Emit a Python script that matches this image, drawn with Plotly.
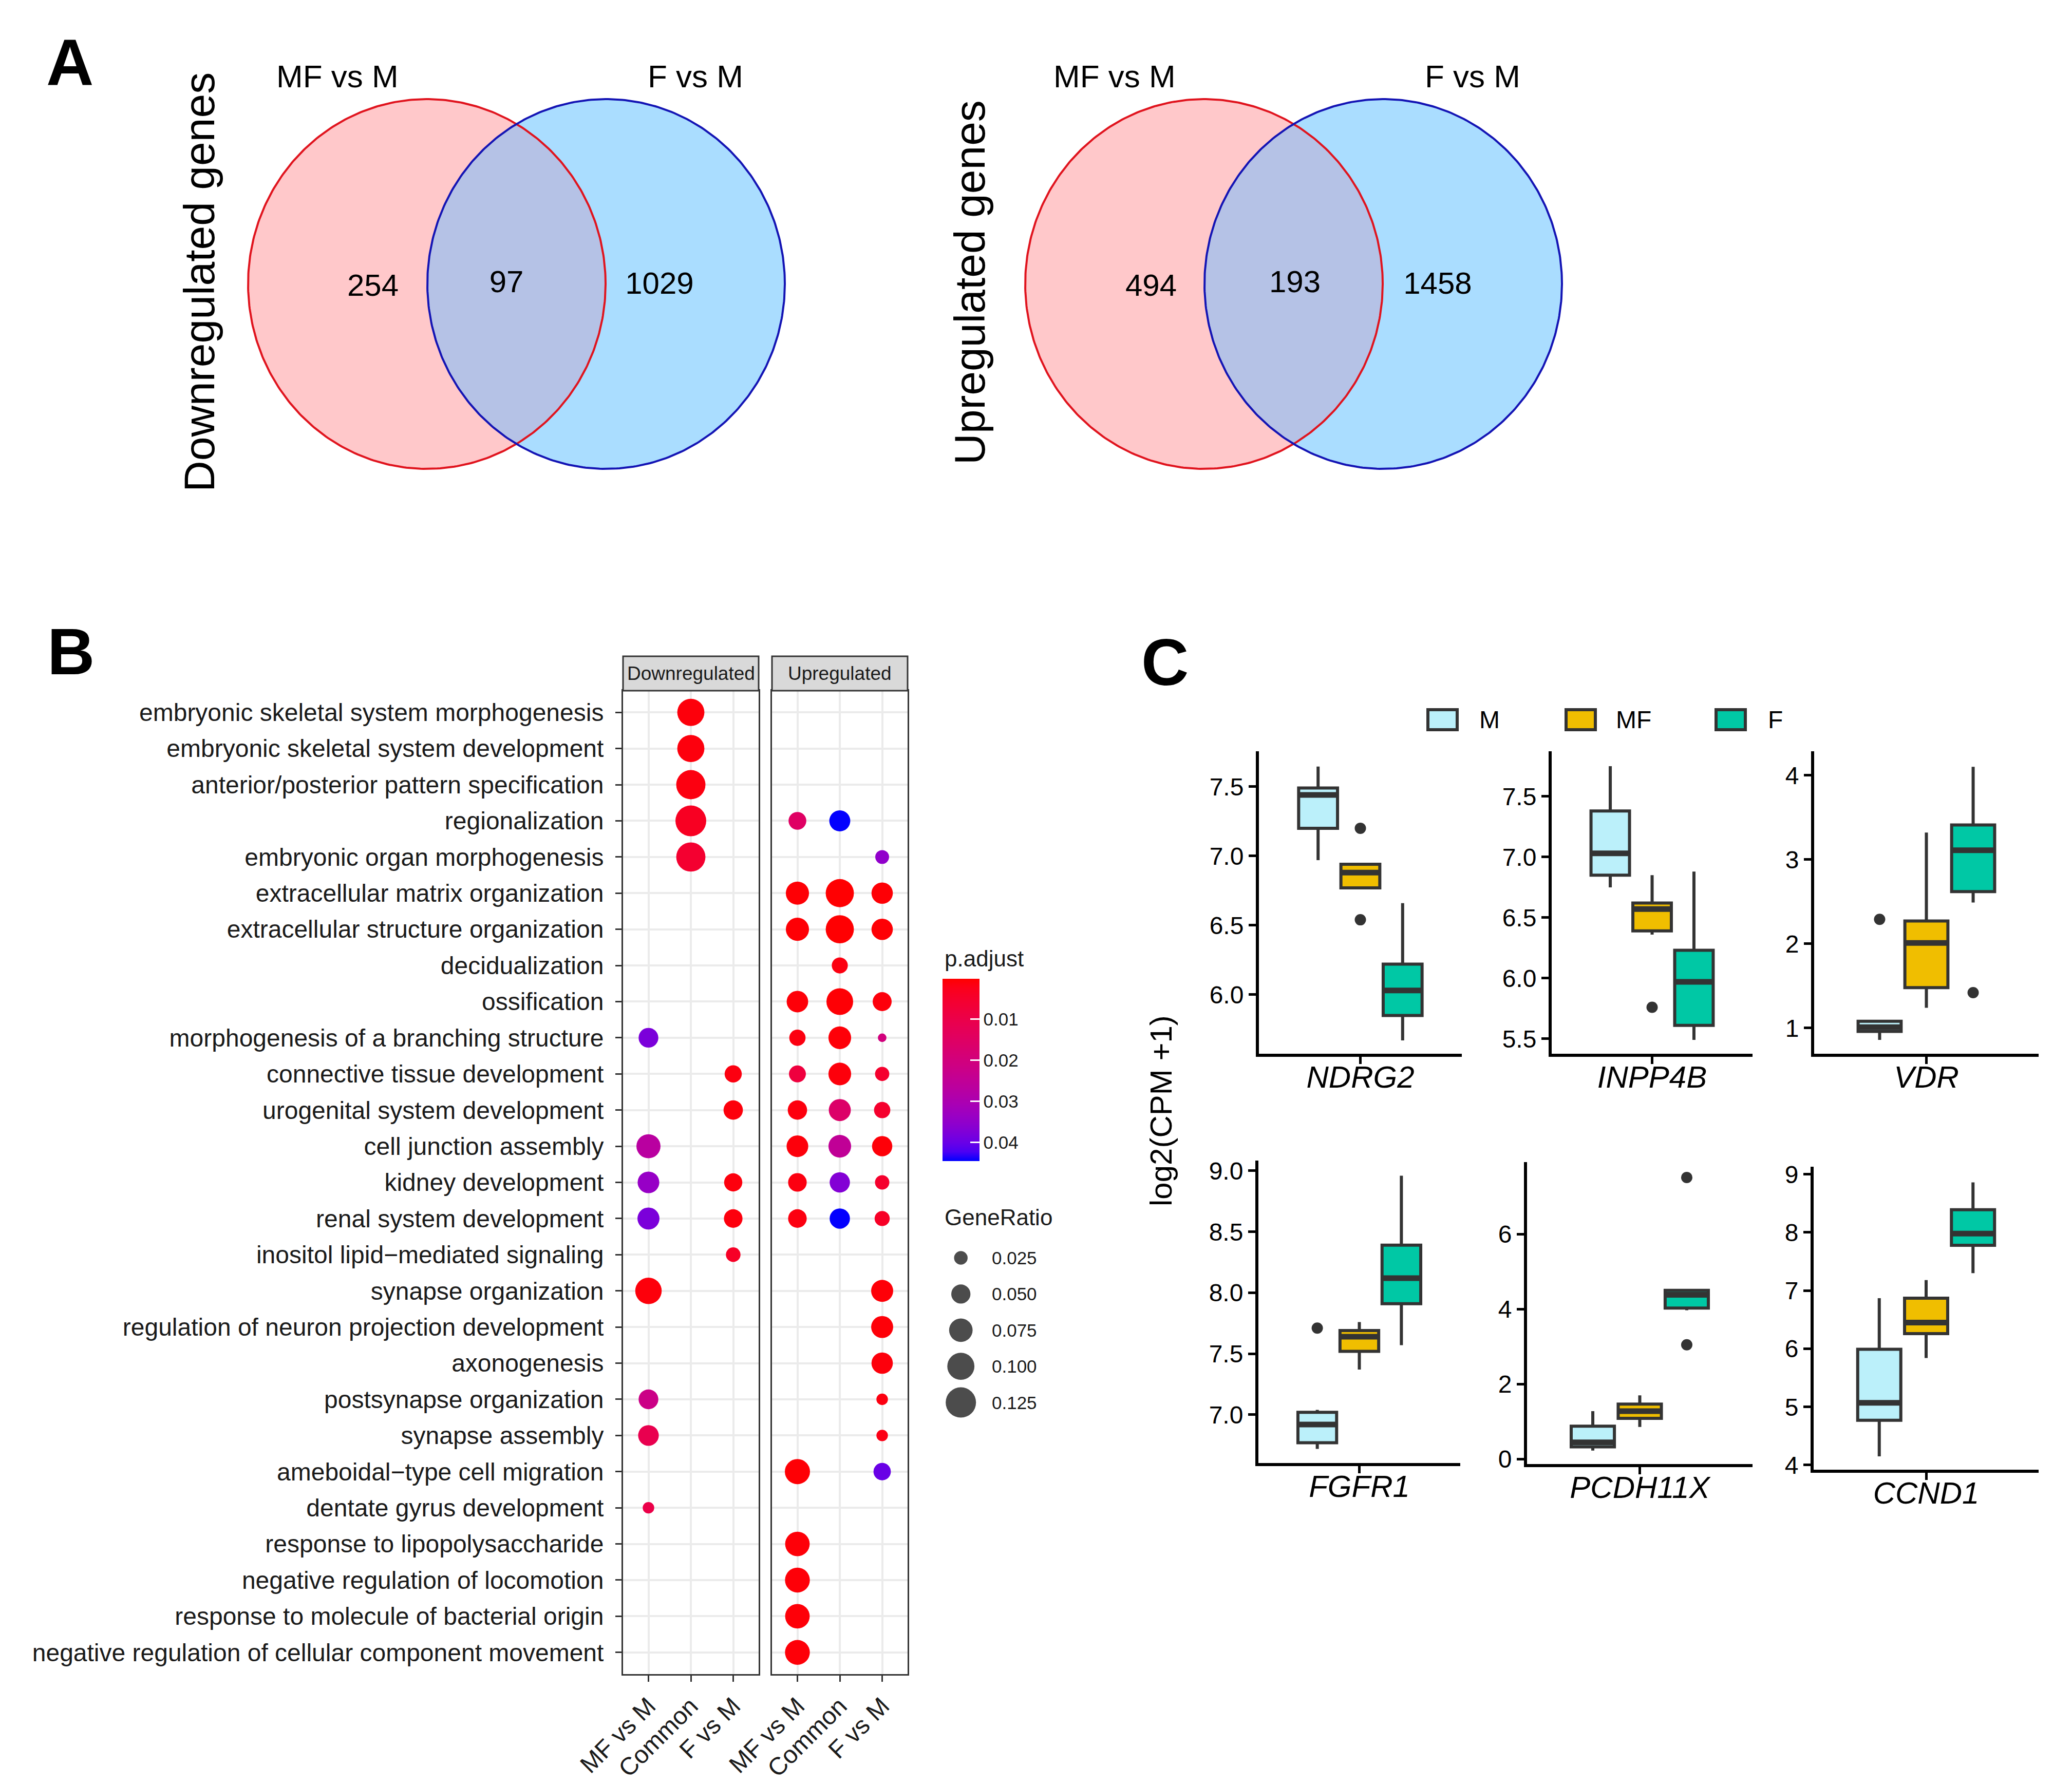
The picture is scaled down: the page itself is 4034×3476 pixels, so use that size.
import numpy as np
import plotly.graph_objects as go

W, H = 4034, 3476
FONT = "Liberation Sans, Arial, Helvetica, sans-serif"

# ---------------- Panel A data ----------------
venn_set_names = ["MF vs M", "F vs M"]
venn_panel_titles = ["Downregulated genes", "Upregulated genes"]
down_counts = [254, 97, 1029]   # MF only, both, F only
up_counts = [494, 193, 1458]

# ---------------- Panel B data ----------------
go_terms = [
    "embryonic skeletal system morphogenesis",
    "embryonic skeletal system development",
    "anterior/posterior pattern specification",
    "regionalization",
    "embryonic organ morphogenesis",
    "extracellular matrix organization",
    "extracellular structure organization",
    "decidualization",
    "ossification",
    "morphogenesis of a branching structure",
    "connective tissue development",
    "urogenital system development",
    "cell junction assembly",
    "kidney development",
    "renal system development",
    "inositol lipid\u2212mediated signaling",
    "synapse organization",
    "regulation of neuron projection development",
    "axonogenesis",
    "postsynapse organization",
    "synapse assembly",
    "ameboidal\u2212type cell migration",
    "dentate gyrus development",
    "response to lipopolysaccharide",
    "negative regulation of locomotion",
    "response to molecule of bacterial origin",
    "negative regulation of cellular component movement",
]
comparisons = ["MF vs M", "Common", "F vs M"]
facets = ["Downregulated", "Upregulated"]

down_term = [0, 1, 2, 3, 4, 9, 10, 11, 12, 13, 13, 14, 14, 15, 16, 19, 20, 22]
down_comp = ["Common", "Common", "Common", "Common", "Common", "MF vs M", "F vs M", "F vs M",
             "MF vs M", "MF vs M", "F vs M", "MF vs M", "F vs M", "F vs M", "MF vs M",
             "MF vs M", "MF vs M", "MF vs M"]
down_ratio = [0.100, 0.100, 0.116, 0.129, 0.116, 0.053, 0.040, 0.051, 0.079, 0.064, 0.045,
              0.066, 0.047, 0.029, 0.095, 0.053, 0.058, 0.018]
down_padj = [0.0010, 0.0012, 0.0015, 0.0035, 0.0055, 0.038, 0.0015, 0.0010, 0.027, 0.034,
             0.0012, 0.038, 0.0012, 0.004, 0.0010, 0.022, 0.011, 0.010]

up_term = [3, 3, 4, 5, 5, 5, 6, 6, 6, 7, 8, 8, 8, 9, 9, 9, 10, 10, 10, 11, 11, 11,
           12, 12, 12, 13, 13, 13, 14, 14, 14, 16, 17, 18, 19, 20, 21, 21, 23, 24, 25, 26]
up_comp = ["MF vs M", "Common", "F vs M",
           "MF vs M", "Common", "F vs M",
           "MF vs M", "Common", "F vs M",
           "Common",
           "MF vs M", "Common", "F vs M",
           "MF vs M", "Common", "F vs M",
           "MF vs M", "Common", "F vs M",
           "MF vs M", "Common", "F vs M",
           "MF vs M", "Common", "F vs M",
           "MF vs M", "Common", "F vs M",
           "MF vs M", "Common", "F vs M",
           "F vs M", "F vs M", "F vs M", "F vs M", "F vs M",
           "MF vs M", "F vs M",
           "MF vs M", "MF vs M", "MF vs M", "MF vs M"]
up_ratio = [0.043, 0.060, 0.026,
            0.073, 0.108, 0.062,
            0.073, 0.108, 0.062,
            0.035,
            0.063, 0.097, 0.049,
            0.036, 0.070, 0.010,
            0.039, 0.070, 0.0275,
            0.051, 0.066, 0.036,
            0.064, 0.070, 0.056,
            0.047, 0.056, 0.028,
            0.047, 0.056, 0.031,
            0.066, 0.066, 0.062, 0.018, 0.018,
            0.086, 0.041,
            0.082, 0.084, 0.082, 0.084]
up_padj = [0.015, 0.0445, 0.035,
           0.0005, 0.0003, 0.0005,
           0.0005, 0.0003, 0.0005,
           0.0015,
           0.0008, 0.0005, 0.0010,
           0.0015, 0.0008, 0.020,
           0.008, 0.0010, 0.005,
           0.0012, 0.016, 0.005,
           0.0010, 0.025, 0.0008,
           0.0015, 0.037, 0.005,
           0.0015, 0.0445, 0.004,
           0.0008, 0.0008, 0.0010, 0.0015, 0.0020,
           0.0005, 0.040,
           0.0008, 0.0008, 0.0008, 0.0008]

generatio_breaks = [0.025, 0.050, 0.075, 0.100, 0.125]
padj_breaks = [0.01, 0.02, 0.03, 0.04]
padj_limits = [0.0001, 0.0446]

# ---------------- Panel C data ----------------
genes = ["NDRG2", "INPP4B", "VDR", "FGFR1", "PCDH11X", "CCND1"]
groups = ["M", "MF", "F"]
box_lowerfence = [[6.97, 6.77, 5.67], [6.75, 6.36, 5.49], [0.86, 1.24, 2.49],
                  [6.72, 7.37, 7.57], [0.23, 0.86, 3.97], [4.15, 5.84, 7.30]]
box_q1 = [[7.20, 6.77, 5.85], [6.85, 6.39, 5.61], [0.96, 1.48, 2.62],
          [6.77, 7.52, 7.91], [0.33, 1.09, 4.03], [4.77, 6.26, 7.78]]
box_median = [[7.44, 6.88, 6.03], [7.03, 6.57, 5.97], [1.01, 2.01, 3.11],
              [6.92, 7.64, 8.12], [0.45, 1.28, 4.38], [5.07, 6.45, 7.98]]
box_q3 = [[7.49, 6.94, 6.22], [7.38, 6.62, 6.23], [1.08, 2.27, 3.41],
          [7.02, 7.69, 8.39], [0.88, 1.47, 4.50], [5.99, 6.87, 8.39]]
box_upperfence = [[7.645, 6.94, 6.66], [7.75, 6.85, 6.88], [1.08, 3.32, 4.10],
                  [7.04, 7.76, 8.96], [1.28, 1.70, 4.50], [6.87, 7.18, 8.86]]
outlier_gene = ["NDRG2", "NDRG2", "INPP4B", "VDR", "VDR", "FGFR1", "PCDH11X", "PCDH11X"]
outlier_group = ["MF", "MF", "MF", "M", "F", "M", "F", "F"]
outlier_value = [7.20, 6.54, 5.76, 2.29, 1.42, 7.71, 7.51, 3.05]
gene_yticks = [[6.0, 6.5, 7.0, 7.5], [5.5, 6.0, 6.5, 7.0, 7.5], [1, 2, 3, 4],
               [7.0, 7.5, 8.0, 8.5, 9.0], [0, 2, 4, 6], [4, 5, 6, 7, 8, 9]]
y_title_c = "log2(CPM +1)"

# ---------------- styles / layout geometry ----------------
group_colors = {"M": "#BBF0FA", "MF": "#F0BE00", "F": "#00C8A5"}
box_pos = {"M": 0.75, "MF": 1.0, "F": 1.25}
box_w = 0.23
c_xpx = [(2443, 2838), (3013, 3404), (3524, 3961), (2442, 2835), (2965, 3404), (3523, 3961)]
c_ypx = [(1455, 2044), (1455, 2044), (1455, 2044), (2252, 2841), (2255, 2843), (2264, 2854)]
c_yrange = [(5.574, 7.755), (5.376, 7.873), (0.695, 4.285), (6.604, 9.084), (-0.13, 7.92), (3.92, 9.13)]
c_tickfmt = [".1f", ".1f", "d", ".1f", "d", "d"]

b_xpx = [(1205, 1469), (1495, 1759)]
b_ypx = (1337, 3252)
strip_ypx = (1270, 1337)

SIZEREF = 2.0 / 167.0 ** 2  # diameter = 167*sqrt(GeneRatio) px


def fx(px):
    return px / W


def fy(py):
    return 1 - py / H


# Lab interpolation red -> blue (as ggplot2 gradient)
def srgb_to_lab(rgb):
    def lin(c):
        c = c / 255
        return c / 12.92 if c <= 0.04045 else ((c + 0.055) / 1.055) ** 2.4
    r, g, b = [lin(c) for c in rgb]
    X = 0.4124 * r + 0.3576 * g + 0.1805 * b
    Y = 0.2126 * r + 0.7152 * g + 0.0722 * b
    Z = 0.0193 * r + 0.1192 * g + 0.9505 * b
    d = 6 / 29

    def f(t):
        return t ** (1 / 3) if t > d ** 3 else t / (3 * d * d) + 4 / 29
    fx_, fy_, fz_ = f(X / 0.95047), f(Y), f(Z / 1.08883)
    return (116 * fy_ - 16, 500 * (fx_ - fy_), 200 * (fy_ - fz_))


def lab_to_srgb(lab):
    L, a, b = lab
    fy_ = (L + 16) / 116
    fx_ = fy_ + a / 500
    fz_ = fy_ - b / 200
    d = 6 / 29

    def finv(t):
        return t ** 3 if t > d else 3 * d * d * (t - 4 / 29)
    X, Y, Z = 0.95047 * finv(fx_), finv(fy_), 1.08883 * finv(fz_)
    r = 3.2406 * X - 1.5372 * Y - 0.4986 * Z
    g = -0.9689 * X + 1.8758 * Y + 0.0415 * Z
    bb = 0.0557 * X - 0.2040 * Y + 1.0570 * Z

    def gam(c):
        c = max(0.0, min(1.0, c))
        return 12.92 * c if c <= 0.0031308 else 1.055 * c ** (1 / 2.4) - 0.055
    return tuple(int(round(255 * gam(c))) for c in (r, g, bb))


# colour is mapped on -p.adjust so that the colourbar shows small p (red) at the top,
# as ggplot's reversed colourbar does; colourscale runs blue (large p) -> red (small p)
lab_lo, lab_hi = srgb_to_lab((0, 0, 255)), srgb_to_lab((255, 0, 0))
colorscale = []
for i in range(21):
    t = i / 20
    lab = tuple(lab_lo[k] + (lab_hi[k] - lab_lo[k]) * t for k in range(3))
    r, g, b = lab_to_srgb(lab)
    colorscale.append([t, f"rgb({r},{g},{b})"])

fig = go.Figure()

# ---------------- Panel A: Venn diagrams (pixel overlay axis x9/y9) ----------------
venn_cx = [(823, 1172), (2336, 2685)]
venn_cy = 545
venn_rx, venn_ry = 348, 360
venn_label_x = [(718, 978, 1276), (2233, 2513, 2791)]
venn_label_y = (553, 546, 549)
venn_title_x = [380, 1880]


def ell(cx, cy, a0, a1, n=400):
    ts = np.linspace(a0, a1, n)
    return cx + venn_rx * np.cos(ts), cy + venn_ry * np.sin(ts)


for vi, counts in enumerate([down_counts, up_counts]):
    c1, c2 = venn_cx[vi]
    x, y = ell(c1, venn_cy, 0, 2 * np.pi)
    fig.add_trace(go.Scatter(x=x, y=y, fill="toself", fillcolor="#FFC8CA", mode="none",
                             xaxis="x9", yaxis="y9", hoverinfo="skip"))
    x, y = ell(c2, venn_cy, 0, 2 * np.pi)
    fig.add_trace(go.Scatter(x=x, y=y, fill="toself", fillcolor="#AADDFF", mode="none",
                             xaxis="x9", yaxis="y9", hoverinfo="skip"))
    th = np.arccos((c2 - c1) / 2 / venn_rx)
    xa, ya = ell(c1, venn_cy, -th, th)
    xb, yb = ell(c2, venn_cy, np.pi - th, np.pi + th)
    fig.add_trace(go.Scatter(x=np.concatenate([xa, xb]), y=np.concatenate([ya, yb]),
                             fill="toself", fillcolor="#B5C2E6", mode="none",
                             xaxis="x9", yaxis="y9", hoverinfo="skip"))
    x, y = ell(c1, venn_cy, 0, 2 * np.pi)
    fig.add_trace(go.Scatter(x=x, y=y, mode="lines", line=dict(color="#E0141E", width=4),
                             xaxis="x9", yaxis="y9", hoverinfo="skip"))
    x, y = ell(c2, venn_cy, 0, 2 * np.pi)
    fig.add_trace(go.Scatter(x=x, y=y, mode="lines", line=dict(color="#1414B4", width=4),
                             xaxis="x9", yaxis="y9", hoverinfo="skip"))
    fig.add_trace(go.Scatter(x=list(venn_label_x[vi]), y=list(venn_label_y),
                             text=[str(c) for c in counts], mode="text",
                             textfont=dict(family=FONT, size=60, color="black"),
                             xaxis="x9", yaxis="y9", hoverinfo="skip"))

annotations = []
for vi in range(2):
    c1, c2 = venn_cx[vi]
    annotations.append(dict(x=c1 - 174, y=140, xref="x9", yref="y9", text=venn_set_names[0],
                            showarrow=False, font=dict(family=FONT, size=62, color="black")))
    annotations.append(dict(x=c2 + 174, y=140, xref="x9", yref="y9", text=venn_set_names[1],
                            showarrow=False, font=dict(family=FONT, size=62, color="black")))
    annotations.append(dict(x=venn_title_x[vi], y=542, xref="x9", yref="y9",
                            text=venn_panel_titles[vi], textangle=-90, showarrow=False,
                            font=dict(family=FONT, size=84, color="black")))

# panel letters
for letter, (lx, ly) in zip(["A", "B", "C"], [(128, 113), (130, 1260), (2260, 1281)]):
    annotations.append(dict(x=lx, y=ly, xref="x9", yref="y9", text=f"<b>{letter}</b>",
                            showarrow=False, font=dict(family=FONT, size=128, color="black")))

# ---------------- Panel B: GO dot plot ----------------
for fi, (terms, comps, ratios, padjs) in enumerate([
        (down_term, down_comp, down_ratio, down_padj),
        (up_term, up_comp, up_ratio, up_padj)]):
    xs = [comparisons.index(c) + 1 for c in comps]
    ys = [t + 1 for t in terms]
    ax = "" if fi == 0 else "2"
    fig.add_trace(go.Scatter(
        x=xs, y=ys, mode="markers", xaxis="x" + ax, yaxis="y" + ax,
        marker=dict(size=ratios, sizemode="area", sizeref=SIZEREF, color=[-p for p in padjs],
                    coloraxis="coloraxis", line=dict(width=0), opacity=1),
        hovertext=[f"{go_terms[t]}: p.adjust={p}" for t, p in zip(terms, padjs)],
        hoverinfo="text"))

# size legend (GeneRatio)
leg_y = [2441.5 + i * 70.4 for i in range(len(generatio_breaks))]
fig.add_trace(go.Scatter(x=[1862.7] * len(generatio_breaks), y=leg_y, mode="markers",
                         marker=dict(size=generatio_breaks, sizemode="area", sizeref=SIZEREF,
                                     color="black", line=dict(width=0)),
                         xaxis="x9", yaxis="y9", hoverinfo="skip"))
annotations.append(dict(x=1829, y=2362, xref="x9", yref="y9", text="GeneRatio", xanchor="left",
                        showarrow=False, font=dict(family=FONT, size=44, color="#1a1a1a")))
for v, yy in zip(generatio_breaks, leg_y):
    annotations.append(dict(x=1921, y=yy, xref="x9", yref="y9", text=f"{v:.3f}", xanchor="left",
                            showarrow=False, font=dict(family=FONT, size=35, color="#1a1a1a")))
annotations.append(dict(x=1829, y=1858, xref="x9", yref="y9", text="p.adjust", xanchor="left",
                        showarrow=False, font=dict(family=FONT, size=44, color="#1a1a1a")))

# facet strips
shapes = []
for fi in range(2):
    x0, x1 = b_xpx[fi]
    shapes.append(dict(type="rect", xref="x9", yref="y9", x0=x0, x1=x1, y0=strip_ypx[0],
                       y1=strip_ypx[1], fillcolor="#D9D9D9", line=dict(color="#333333", width=3)))
    annotations.append(dict(x=(x0 + x1) / 2, y=(strip_ypx[0] + strip_ypx[1]) / 2, xref="x9",
                            yref="y9", text=facets[fi], showarrow=False,
                            font=dict(family=FONT, size=37, color="#1a1a1a")))

# ---------------- Panel C: boxplots ----------------
for gi, gene in enumerate(genes):
    ax = str(gi + 3)
    for k, grp in enumerate(groups):
        fig.add_trace(go.Box(
            x=[box_pos[grp]], q1=[box_q1[gi][k]], median=[box_median[gi][k]], q3=[box_q3[gi][k]],
            lowerfence=[box_lowerfence[gi][k]], upperfence=[box_upperfence[gi][k]],
            width=box_w, fillcolor=group_colors[grp], line=dict(color="#333333", width=6),
            whiskerwidth=0, boxpoints=False, xaxis="x" + ax, yaxis="y" + ax, hoverinfo="skip"))
        fig.add_trace(go.Scatter(
            x=[box_pos[grp] - box_w / 2, box_pos[grp] + box_w / 2],
            y=[box_median[gi][k]] * 2, mode="lines", line=dict(color="#333333", width=11),
            xaxis="x" + ax, yaxis="y" + ax, hoverinfo="skip"))
    ox = [box_pos[g] for gn, g in zip(outlier_gene, outlier_group) if gn == gene]
    oy = [v for gn, v in zip(outlier_gene, outlier_value) if gn == gene]
    if ox:
        fig.add_trace(go.Scatter(x=ox, y=oy, mode="markers",
                                 marker=dict(size=22, color="#333333", line=dict(width=0)),
                                 xaxis="x" + ax, yaxis="y" + ax, hoverinfo="skip"))

# box legend
key_x = [2772, 3041, 3333]
lab_x = [2870, 3136, 3432]
for grp, kx, lx in zip(groups, key_x, lab_x):
    shapes.append(dict(type="rect", xref="x9", yref="y9", x0=kx, x1=kx + 57, y0=1374, y1=1413,
                       fillcolor=group_colors[grp], line=dict(color="#333333", width=6)))
    annotations.append(dict(x=lx, y=1393, xref="x9", yref="y9", text=grp, xanchor="left",
                            showarrow=False, font=dict(family=FONT, size=48, color="black")))
annotations.append(dict(x=2252, y=2155, xref="x9", yref="y9", text=y_title_c, textangle=-90,
                        showarrow=False, font=dict(family=FONT, size=60, color="black")))

# ---------------- layout ----------------
layout = dict(
    template="none",
    width=W, height=H, autosize=False,
    margin=dict(l=0, r=0, t=0, b=0, pad=0, autoexpand=False),
    paper_bgcolor="white", plot_bgcolor="rgba(0,0,0,0)",
    showlegend=False, font=dict(family=FONT),
    annotations=annotations, shapes=shapes,
    coloraxis=dict(
        colorscale=colorscale, cmin=-padj_limits[1], cmax=-padj_limits[0],
        colorbar=dict(
            x=fx(1827), xanchor="left", xpad=0, ypad=0,
            y=fy(1898 + 355 / 2), yanchor="middle",
            len=355, lenmode="pixels", thickness=72, thicknessmode="pixels",
            outlinewidth=0, tickvals=[-v for v in padj_breaks],
            ticktext=[f"{v:.2f}" for v in padj_breaks],
            ticks="inside", ticklen=18, tickwidth=3, tickcolor="white",
            ticklabelposition="outside",
            tickfont=dict(family=FONT, size=35, color="#1a1a1a"),
        ),
    ),
)

b_common = dict(showgrid=True, gridcolor="#EBEBEB", gridwidth=4, zeroline=False,
                showline=True, mirror=True, linecolor="#333333", linewidth=3,
                fixedrange=True, automargin=False)
for fi in range(2):
    sfx = "" if fi == 0 else "2"
    layout["xaxis" + sfx] = dict(
        b_common, domain=[fx(b_xpx[fi][0]), fx(b_xpx[fi][1])], anchor="y" + sfx,
        range=[0.4, 3.6], tickvals=[1, 2, 3], ticktext=comparisons, tickangle=-45,
        ticks="outside", ticklen=12, tickwidth=3, tickcolor="#333333",
        tickfont=dict(family=FONT, size=48, color="#1a1a1a"))
    layout["yaxis" + sfx] = dict(
        b_common, domain=[fy(b_ypx[1]), fy(b_ypx[0])], anchor="x" + sfx,
        range=[len(go_terms) + 0.6, 0.4], tickvals=list(range(1, len(go_terms) + 1)),
        ticktext=go_terms, showticklabels=(fi == 0), ticklabelstandoff=13,
        ticks="outside" if fi == 0 else "", ticklen=12, tickwidth=3, tickcolor="#333333",
        tickfont=dict(family=FONT, size=48, color="#1a1a1a"))

for gi, gene in enumerate(genes):
    ax = str(gi + 3)
    layout["xaxis" + ax] = dict(
        domain=[fx(c_xpx[gi][0]), fx(c_xpx[gi][1])], anchor="y" + ax, range=[0.4, 1.6],
        tickvals=[1], ticktext=[f"<i>{gene}</i>"], ticks="outside", ticklen=14, tickwidth=5,
        tickcolor="black", showline=True, linecolor="black", linewidth=6, showgrid=False,
        zeroline=False, fixedrange=True, automargin=False, ticklabelstandoff=-26,
        tickfont=dict(family=FONT, size=60, color="black"))
    layout["yaxis" + ax] = dict(
        domain=[fy(c_ypx[gi][1]), fy(c_ypx[gi][0])], anchor="x" + ax, range=list(c_yrange[gi]),
        tickvals=gene_yticks[gi], tickformat=c_tickfmt[gi], ticks="outside", ticklen=14,
        tickwidth=5, tickcolor="black", showline=True, linecolor="black", linewidth=6,
        showgrid=False, zeroline=False, fixedrange=True, automargin=False,
        tickfont=dict(family=FONT, size=48, color="black"))

layout["xaxis9"] = dict(domain=[0, 1], anchor="y9", range=[0, W], visible=False,
                        fixedrange=True, automargin=False)
layout["yaxis9"] = dict(domain=[0, 1], anchor="x9", range=[H, 0], visible=False,
                        fixedrange=True, automargin=False)

fig.update_layout(layout)
fig.write_html("out.html")
